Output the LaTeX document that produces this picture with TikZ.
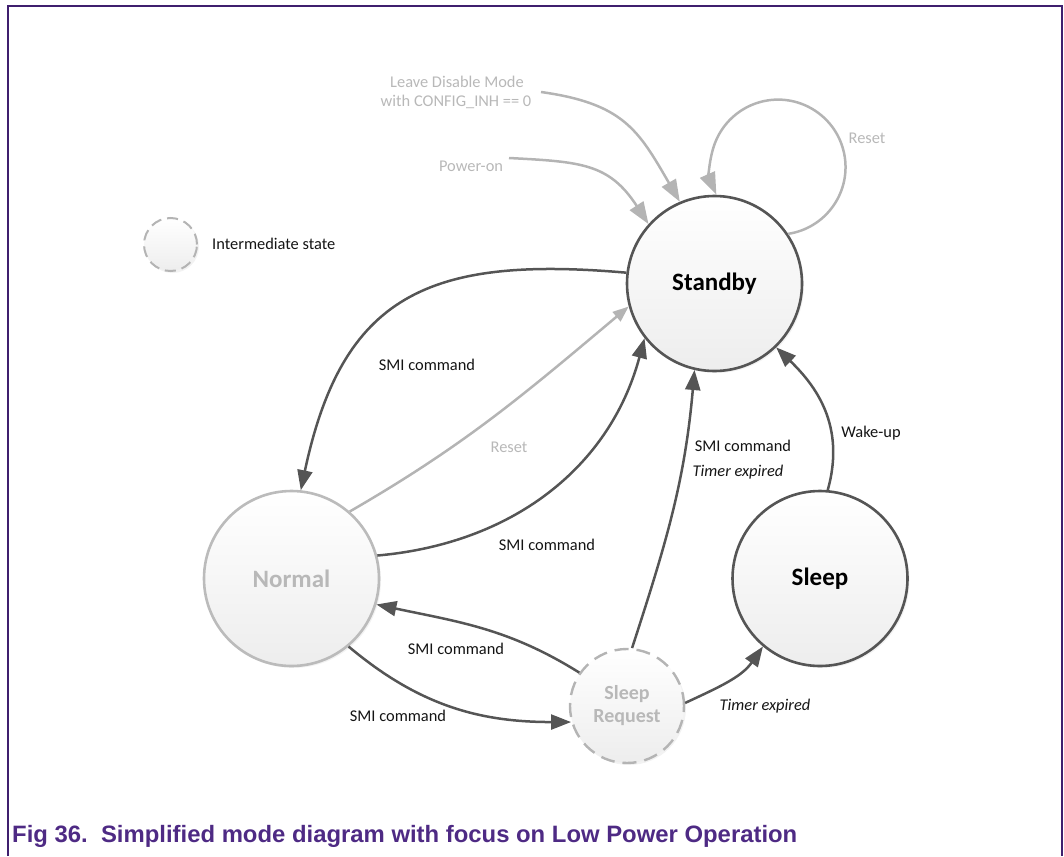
\documentclass[tikz,border=0pt]{standalone}
\usepackage{fontspec}
\usepackage{graphicx}
\setmainfont{Carlito}
\newfontfamily\capfont{Liberation Sans}
\usetikzlibrary{arrows.meta,shadows}
\definecolor{dk}{HTML}{555555}
\definecolor{lt}{HTML}{B4B4B4}
\definecolor{lttext}{HTML}{B8B8B8}
\definecolor{framec}{HTML}{3F1F6E}
\definecolor{capc}{HTML}{4E2A84}
\tikzset{
  state/.style={circle, inner sep=0pt, minimum size=#1, top color=white, bottom color=black!7,
    drop shadow={opacity=0.10, shadow xshift=2pt, shadow yshift=-2pt}},
  darkstate/.style={state=175pt, draw=dk, line width=2.6pt, font=\fontsize{25}{28}\selectfont\bfseries},
  lightstate/.style={state=175pt, draw=lt!90, line width=2.6pt, text=lttext, font=\fontsize{25}{28}\selectfont\bfseries},
  interstate/.style={state=#1, draw=lt, line width=2.4pt, dash pattern=on 14pt off 8pt, text=lttext},
  darkarrow/.style={draw=dk, line width=2.5pt, -{Triangle[length=20pt,width=15pt]}},
  lightarrow/.style={draw=lt, line width=2.5pt, -{Triangle[length=22pt,width=16pt]}},
  smallarrow/.style={draw=lt, line width=2.5pt, -{Triangle[length=16pt,width=12pt]}},
  lbl/.style={font=\fontsize{16.4}{19}\selectfont, text=black!92, inner sep=0pt},
  ltlbl/.style={lbl, text=lttext},
  itlbl/.style={lbl, font=\fontsize{16.4}{19}\selectfont\itshape},
}
\begin{document}
\begin{tikzpicture}[x=1pt,y=1pt]
\useasboundingbox (0,0) rectangle (1064,-856);
% frame
\draw[framec, line width=2pt] (8,-856) -- (8,-6) -- (1062,-6) -- (1062,-856);
% states
\node[darkstate] (standby) at (714.5,-283.5) {Standby};
\node[lightstate] (normal) at (291.5,-578.5) {Normal};
\node[darkstate] (sleep) at (820,-578.5) {Sleep};
\node[interstate=114pt, font=\fontsize{20}{23}\selectfont\bfseries, align=center] (sr) at (627,-706) {Sleep\\Request};
\node[interstate=53pt, line width=2pt, dash pattern=on 11pt off 6pt] (legend) at (170.5,-244.5) {};
\node[lbl, anchor=west] (legendtxt) at (212,-244) {Intermediate state};
% free ends
\coordinate (ldm) at (541,-92);
\coordinate (pon) at (509,-158);
% connectors
\draw[lightarrow] (ldm) to[out=-8,in=120,looseness=1.2] (standby.113);
\draw[lightarrow] (pon) to[out=-3,in=123,looseness=1.2] (standby.138);
\draw[lightarrow] (standby.34) arc[start angle=-81.4, end angle=204, radius=67.5];
\draw[darkarrow] (standby.173) to[out=175,in=78,looseness=1.3] (normal.84);
\draw[smallarrow] (normal.49) to[out=30,in=220] (standby.195);
\draw[darkarrow] (normal.15) to[out=5,in=255] (standby.218);
\draw[darkarrow] (sr.85) to[out=72,in=265] (standby.257);
\draw[darkarrow] (sleep.85) .. controls (846,-425) and (815,-385) .. (standby.314);
\draw[darkarrow] (sr.145) to[out=148,in=-12] (normal.343);
\draw[darkarrow] (normal.310) to[out=-40,in=180] (sr.196);
\draw[darkarrow] (sr.3) to[out=25,in=235] (sleep.230);
% labels
\node[ltlbl] (t1) at (457,-82) {Leave Disable Mode};
\node[ltlbl] (t2) at (456,-102) {with CONFIG\_INH == 0};
\node[ltlbl] (t3) at (471,-166) {Power-on};
\node[ltlbl] (t4) at (867,-138) {Reset};
\node[lbl] (t5) at (427,-365) {SMI command};
\node[ltlbl] (t6) at (509,-447) {Reset};
\node[lbl] (t7) at (547,-545) {SMI command};
\node[lbl] (t8) at (456,-649) {SMI command};
\node[lbl] (t9) at (398,-716) {SMI command};
\node[lbl] (t10) at (743,-446) {SMI command};
\node[itlbl] (t11) at (738,-472) {Timer expired};
\node[lbl] (t12) at (871,-433) {Wake-up};
\node[itlbl] (t13) at (765,-706) {Timer expired};
% caption
\node[anchor=base west, text=capc, inner sep=0pt] (cap) at (12,-842)
  {\resizebox{785pt}{\height}{\capfont\bfseries\fontsize{23.7}{28}\selectfont Fig 36.\ \ Simplified mode diagram with focus on Low Power Operation}};
\end{tikzpicture}
\end{document}
